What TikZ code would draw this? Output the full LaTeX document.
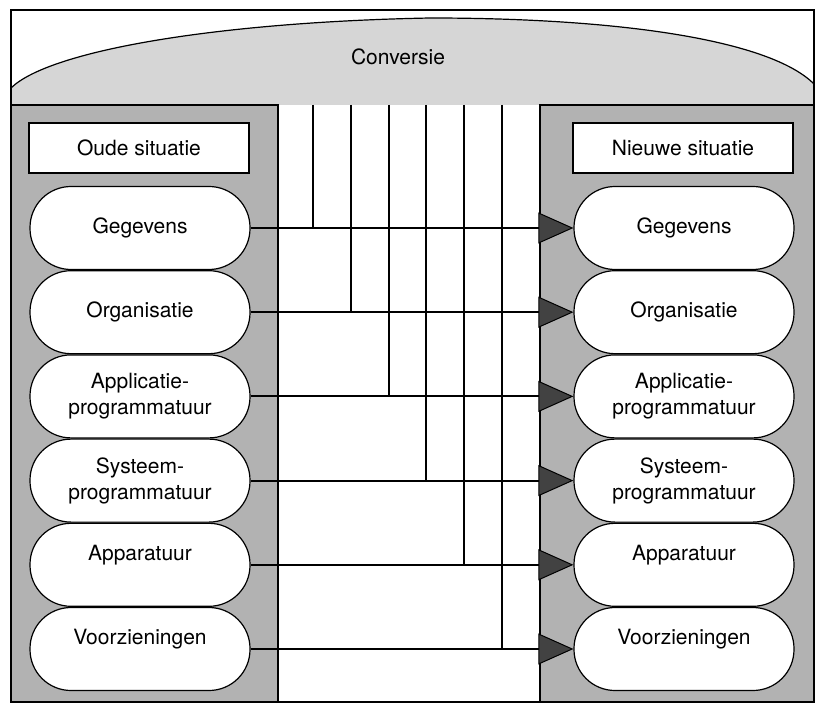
\documentclass[tikz,border=0pt]{standalone}
\usepackage{fontspec}
\setmainfont{TeX Gyre Heros}
\usetikzlibrary{arrows.meta,positioning}

\begin{document}
\begin{tikzpicture}[x=1pt,y=-1pt,font=\fontsize{21}{26}\selectfont,
  paneel/.style={draw,line width=1.2pt,fill=black!30},
  kop/.style={draw,line width=1.2pt,fill=white,minimum width=220pt,minimum height=50pt},
  blok/.style={draw,line width=1.2pt,fill=white,rounded corners=41pt,align=center,
    minimum width=220pt,minimum height=83pt,inner sep=0pt},
  hoog/.style={text depth=24pt},
  lijn/.style={line width=2pt},
  pijl/.style={lijn,-{Triangle[length=35pt,width=31pt,fill=black!74,line width=1pt]}}]
  \useasboundingbox (0,0) rectangle (824,708);
  \fill[white] (0,0) rectangle (824,708);
  % dome with the conversion on top
  \fill[black!16] (11,105) -- (11,88) .. controls (50,50) and (220,22) .. (430,18)
    .. controls (620,18) and (770,40) .. (814,84) -- (814,105) -- cycle;
  \draw[line width=1.2pt] (11,88) .. controls (50,50) and (220,22) .. (430,18)
    .. controls (620,18) and (770,40) .. (814,84);
  \node (conv) at (398,57) {Conversie};
  % the two side panels
  \draw[paneel] (11,105) rectangle (278,702);
  \draw[paneel] (540,105) rectangle (814,702);
  \node[kop] (oud) at (139,148) {Oude situatie};
  \node[kop] (nieuw) at (683,148) {Nieuwe situatie};
  % old situation
  \node[blok] (l1) at (140,228) {Gegevens};
  \node[blok,below=0pt of l1] (l2) {Organisatie};
  \node[blok,below=0pt of l2] (l3) {Applicatie-\\programmatuur};
  \node[blok,below=0pt of l3] (l4) {Systeem-\\programmatuur};
  \node[blok,hoog,below=0pt of l4] (l5) {Apparatuur};
  \node[blok,hoog,below=0pt of l5] (l6) {Voorzieningen};
  % new situation
  \node[blok] (r1) at (684,228) {Gegevens};
  \node[blok,below=0pt of r1] (r2) {Organisatie};
  \node[blok,below=0pt of r2] (r3) {Applicatie-\\programmatuur};
  \node[blok,below=0pt of r3] (r4) {Systeem-\\programmatuur};
  \node[blok,hoog,below=0pt of r4] (r5) {Apparatuur};
  \node[blok,hoog,below=0pt of r5] (r6) {Voorzieningen};
  % feeds coming down from the conversion
  \coordinate (c1) at (313,105);
  \coordinate (c2) at (351,105);
  \coordinate (c3) at (389,105);
  \coordinate (c4) at (426,105);
  \coordinate (c5) at (464,105);
  \coordinate (c6) at (502,105);
  \draw[lijn] (c1) -- (c1 |- l1.east);
  \draw[lijn] (c2) -- (c2 |- l2.east);
  \draw[lijn] (c3) -- (c3 |- l3.east);
  \draw[lijn] (c4) -- (c4 |- l4.east);
  \draw[lijn] (c5) -- (c5 |- l5.east);
  \draw[lijn] (c6) -- (c6 |- l6.east);
  \draw[pijl] (l1.east) -- (r1.west);
  \draw[pijl] (l2.east) -- (r2.west);
  \draw[pijl] (l3.east) -- (r3.west);
  \draw[pijl] (l4.east) -- (r4.west);
  \draw[pijl] (l5.east) -- (r5.west);
  \draw[pijl] (l6.east) -- (r6.west);
  \draw[line width=1.5pt] (11,10) rectangle (814,702);
\end{tikzpicture}
\end{document}
